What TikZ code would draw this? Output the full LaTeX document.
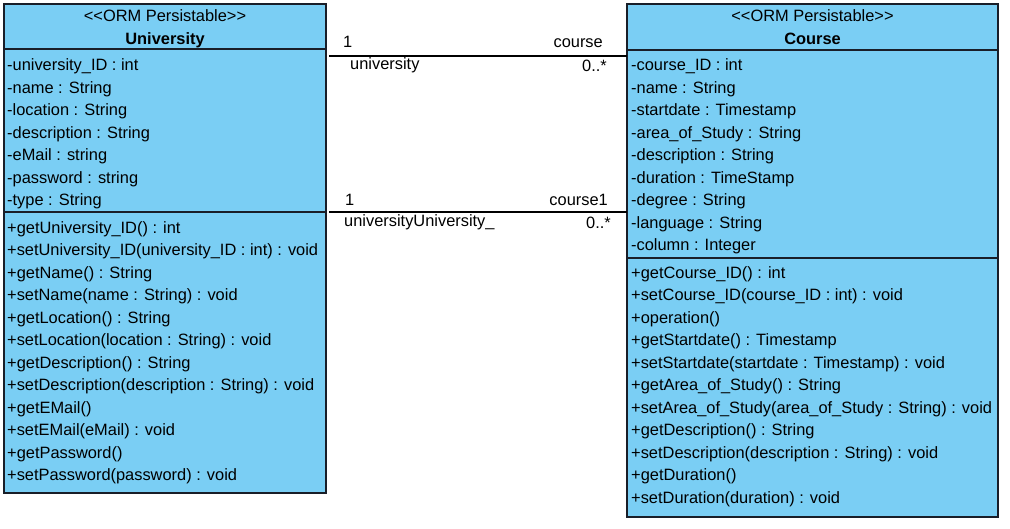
\documentclass[tikz,border=0pt]{standalone}
\usepackage{fontspec}
\newfontfamily\umlfont{Liberation Sans}
\usetikzlibrary{positioning}
\definecolor{classblue}{RGB}{122,206,244}
\definecolor{classline}{RGB}{25,30,40}
\tikzset{
  compart/.style={draw=classline, line width=1.2pt, fill=classblue, inner sep=0pt, outer sep=0pt, anchor=north west},
  member/.style={font=\umlfont\fontsize{16.4}{19}\selectfont, inner sep=0pt, anchor=base west},
  stereo/.style={font=\umlfont\fontsize{16.4}{19}\selectfont, inner sep=0pt, anchor=base},
  assoc/.style={line width=1.2pt, draw=black},
}

\begin{document}
\begin{tikzpicture}[x=1pt, y=-1pt]
    \useasboundingbox (0,0) rectangle (1010,529);
    % University class
    \node[compart, minimum width=322pt, minimum height=45pt] (uniHead) at (4,4) {};
    \node[compart, minimum width=322pt, minimum height=163pt] (uniAttr) at (uniHead.south west) {};
    \node[compart, minimum width=322pt, minimum height=281pt] (uniOps) at (uniAttr.south west) {};
    \node[stereo] (uniSt) at (165,21.7) {<<ORM Persistable>>};
    \node[stereo, font=\umlfont\bfseries\fontsize{16.4}{19}\selectfont] (uniName) at (165,44.5) {University};
    \foreach \t [count=\i] in {-university\_ID : int, -name : String, -location : String,
        -description : String, -eMail : string, -password : string, -type : String}
        \node[member] (uniA\i) at (7,{70.7+(\i-1)*22.5}) {\t};
    \foreach \t [count=\i] in {+getUniversity\_ID() : int,
        +setUniversity\_ID(university\_ID : int) : void, +getName() : String,
        +setName(name : String) : void, +getLocation() : String,
        +setLocation(location : String) : void, +getDescription() : String,
        +setDescription(description : String) : void, +getEMail(),
        +setEMail(eMail) : void, +getPassword(), +setPassword(password) : void}
        \node[member] (uniO\i) at (7,{233.3+(\i-1)*22.5}) {\t};

    % Course class
    \node[compart, minimum width=371pt, minimum height=46pt] (crsHead) at (627,4) {};
    \node[compart, minimum width=371pt, minimum height=208pt] (crsAttr) at (crsHead.south west) {};
    \node[compart, minimum width=371pt, minimum height=259pt] (crsOps) at (crsAttr.south west) {};
    \node[stereo] (crsSt) at (812.5,21.7) {<<ORM Persistable>>};
    \node[stereo, font=\umlfont\bfseries\fontsize{16.4}{19}\selectfont] (crsName) at (812.5,44.5) {Course};
    \foreach \t [count=\i] in {-course\_ID : int, -name : String, -startdate : Timestamp,
        -area\_of\_Study : String, -description : String, -duration : TimeStamp,
        -degree : String, -language : String, -column : Integer}
        \node[member] (crsA\i) at (631,{70.7+(\i-1)*22.5}) {\t};
    \foreach \t [count=\i] in {+getCourse\_ID() : int, +setCourse\_ID(course\_ID : int) : void,
        +operation(), +getStartdate() : Timestamp,
        +setStartdate(startdate : Timestamp) : void, +getArea\_of\_Study() : String,
        +setArea\_of\_Study(area\_of\_Study : String) : void, +getDescription() : String,
        +setDescription(description : String) : void, +getDuration(),
        +setDuration(duration) : void}
        \node[member] (crsO\i) at (631,{278.3+(\i-1)*22.5}) {\t};

    % associations
    \coordinate (assocA) at (329,56);
    \coordinate (assocB) at (329,212);
    \draw[assoc] (assocA) -- (assocA -| crsAttr.west);
    \draw[assoc] (assocB) -- (assocB -| crsAttr.west);
    \node[member] (multA1) at (343,47.5) {1};
    \node[member, anchor=base east] (roleA1) at (603,47.5) {course};
    \node[member] (roleA2) at (350,70) {university};
    \node[member, anchor=base east] (multA2) at (607,71.5) {0..*};
    \node[member] (multB1) at (345,205.7) {1};
    \node[member, anchor=base east] (roleB1) at (608,205.7) {course1};
    \node[member] (roleB2) at (344,226.5) {universityUniversity\_};
    \node[member, anchor=base east] (multB2) at (611,228.3) {0..*};
\end{tikzpicture}
\end{document}
